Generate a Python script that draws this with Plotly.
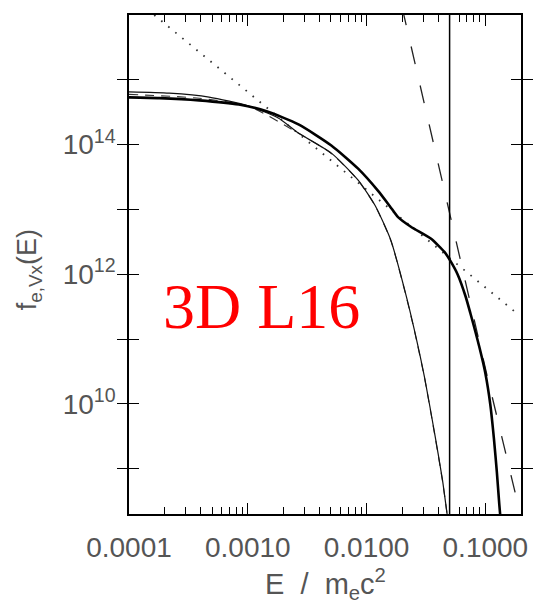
import plotly.graph_objects as go

# Electron energy distribution f_e,Vx(E) versus E / m_e c^2 (log-log)

# Total distribution (thick solid)
E_total = [1.0e-4, 1.80e-4, 3.89e-4, 8.41e-4, 1.44e-3, 2.67e-3, 5.05e-3, 8.49e-3,
           1.25e-2, 1.57e-2, 1.84e-2, 2.36e-2, 3.47e-2, 4.54e-2, 5.09e-2, 5.83e-2,
           6.81e-2, 7.48e-2, 8.91e-2, 0.100, 0.110, 0.118, 0.125, 0.131, 0.135]
f_total = [5.36e14, 5.22e14, 4.82e14, 4.15e14, 3.27e14, 2.05e14, 9.7e13, 4.25e13,
           1.93e13, 1.12e13, 7.6e12, 5.4e12, 3.55e12, 2.19e12, 1.59e12, 1.0e12,
           4.57e11, 2.50e11, 7.46e10, 2.96e10, 9.8e9, 2.93e9, 8.75e8, 2.81e8, 1.48e8]

# Thermal component (thin solid)
E_thermal = [1.0e-4, 2.18e-4, 4.72e-4, 1.02e-3, 1.82e-3, 2.67e-3, 5.05e-3, 8.49e-3,
             1.18e-2, 1.60e-2, 2.10e-2, 2.55e-2, 3.09e-2, 3.74e-2, 4.36e-2, 4.77e-2,
             4.86e-2]
f_thermal = [6.53e14, 6.24e14, 5.42e14, 3.94e14, 2.56e14, 1.51e14, 7.39e13, 2.83e13,
             1.15e13, 3.35e12, 5.6e11, 1.28e11, 2.45e10, 3.5e9, 6.6e8, 1.96e8,
             1.58e8]

# Maxwellian fit to the thermal component (thin dashed)
E_fit = [1.0e-4, 3.89e-4, 1.02e-3, 2.67e-3, 5.05e-3, 8.49e-3, 1.18e-2, 1.60e-2,
         2.10e-2, 2.55e-2, 3.09e-2, 3.74e-2, 4.36e-2, 4.86e-2]
f_fit = [5.96e14, 5.2e14, 3.9e14, 1.5e14, 7.3e13, 2.8e13, 1.14e13, 3.3e12,
         5.5e11, 1.25e11, 2.4e10, 3.4e9, 6.4e8, 1.5e8]

# Steep power-law tail (dashed)
E_tail = [1.98e-2, 2.06e-2, 5.09e-2, 0.104, 0.178]
f_tail = [1.3e16, 1.0e16, 7.6e12, 2.6e10, 4.3e8]

# E^-1.5 power law (dotted)
E_pl = [1.63e-4, 0.175]
f_pl = [1.0e16, 2.69e11]

# Cut-off energy (vertical line)
E_cut = 0.05
f_span = [1.0e8, 1.0e17]

# x ticks: every 1..9 x decade; only decades are labelled
decades = [1e-4, 1e-3, 1e-2, 1e-1]
decade_labels = ["0.0001", "0.0010", "0.0100", "0.1000"]
x_ticks = [m * d for d in decades for m in range(1, 10)]
x_ticktext = [decade_labels[i] if m == 1 else "" for i in range(4) for m in range(1, 10)]

y_ticks = [1e9, 1e10, 1e11, 1e12, 1e13, 1e14, 1e15, 1e16]
y_ticktext = ["", "10<sup>10</sup>", "", "10<sup>12</sup>", "", "10<sup>14</sup>", "", "10<sup>16</sup>"]

fig = go.Figure()
fig.add_trace(go.Scatter(x=E_pl, y=f_pl, mode="lines",
                         line=dict(color="#333", width=1.8, dash="1.6px,7.5px")))
fig.add_trace(go.Scatter(x=E_tail, y=f_tail, mode="lines",
                         line=dict(color="#222", width=1.3, dash="18px,22px")))
fig.add_trace(go.Scatter(x=E_fit, y=f_fit, mode="lines", line_shape="spline",
                         line=dict(color="#333", width=1.1, dash="9px,7px", smoothing=0.6)))
fig.add_trace(go.Scatter(x=E_thermal, y=f_thermal, mode="lines", line_shape="spline",
                         line=dict(color="#111", width=1.2, smoothing=0.6)))
fig.add_trace(go.Scatter(x=E_total, y=f_total, mode="lines", line_shape="spline",
                         line=dict(color="#000", width=2.6, smoothing=0.6)))
# the cut-off line also carries the decade-tick overlay axis
fig.add_trace(go.Scatter(x=[E_cut, E_cut], y=f_span, mode="lines", xaxis="x2",
                         line=dict(color="#000", width=1.5)))

tick_font = dict(family="Liberation Sans", size=28, color="#555")

fig.update_layout(
    width=540, height=603,
    margin=dict(l=129, r=16, t=15, b=89),
    paper_bgcolor="white", plot_bgcolor="white",
    showlegend=False,
    xaxis=dict(type="log", range=[-4, -0.7], showgrid=False, zeroline=False,
               showline=True, linecolor="#000", linewidth=1.6, mirror="allticks",
               ticks="inside", ticklen=7, tickwidth=1.4, tickcolor="#000",
               tickmode="array", tickvals=x_ticks, ticktext=x_ticktext,
               tickfont=tick_font, ticklabelstandoff=8),
    xaxis2=dict(type="log", range=[-4, -0.7], overlaying="x", anchor="y", side="bottom",
                showgrid=False, zeroline=False, showline=True, linecolor="#000",
                linewidth=1.6, mirror="allticks",
                ticks="inside", ticklen=11, tickwidth=1.4, tickcolor="#000",
                tickmode="array", tickvals=decades, showticklabels=False),
    yaxis=dict(type="log", range=[8.3, 16], showgrid=False, zeroline=False,
               showline=True, linecolor="#000", linewidth=1.6, mirror="allticks",
               ticks="inside", ticklen=10, tickwidth=1.4, tickcolor="#000",
               tickmode="array", tickvals=y_ticks, ticktext=y_ticktext,
               tickfont=tick_font, ticklabelstandoff=6),
    annotations=[
        dict(text="3D L16", xref="paper", yref="paper", x=0.339, y=0.416,
             xanchor="center", yanchor="middle", showarrow=False,
             font=dict(family="Liberation Serif", size=64, color="#ff0000")),
        dict(text="E\u00a0 /\u00a0 m<sub>e</sub>c<sup>2</sup>", xref="paper", yref="paper",
             x=0.5, y=-0.14, xanchor="center", yanchor="middle", showarrow=False,
             font=dict(family="Liberation Sans", size=29, color="#555")),
        dict(text="f<sub>e,Vx</sub>(E)", xref="paper", yref="paper",
             x=-0.253, y=0.49, xanchor="center", yanchor="middle", showarrow=False,
             textangle=-90,
             font=dict(family="Liberation Sans", size=27, color="#555")),
    ],
)

fig.write_html("out.html")
